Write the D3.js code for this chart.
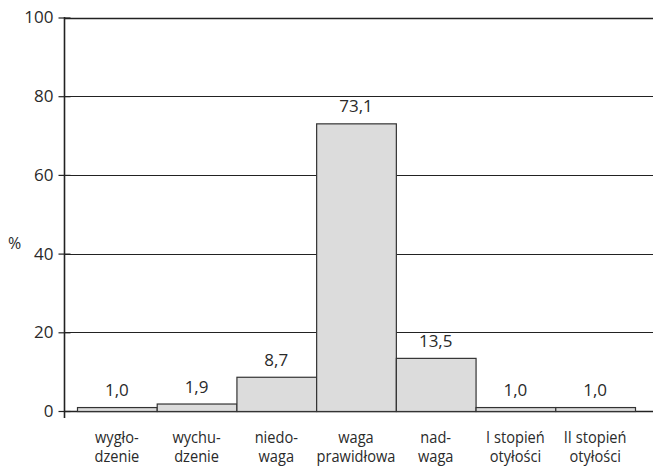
<!DOCTYPE html>
<html>
<head>
<meta charset="utf-8">
<script src="https://cdn.jsdelivr.net/npm/d3@7/dist/d3.min.js"></script>
<style>
  html, body { margin: 0; padding: 0; background: #fff; }
  svg { display: block; font-family: "Open Sans", "DejaVu Sans", sans-serif; }
</style>
</head>
<body>
<svg id="chart" width="653" height="466"></svg>
<script>
// Weight categories (two-line labels) and their shares in percent
const categories = [
  ["wygło-", "dzenie"],
  ["wychu-", "dzenie"],
  ["niedo-", "waga"],
  ["waga", "prawidłowa"],
  ["nad-", "waga"],
  ["I stopień", "otyłości"],
  ["II stopień", "otyłości"]
];
const values = [1.0, 1.9, 8.7, 73.1, 13.5, 1.0, 1.0];
const valueLabels = ["1,0", "1,9", "8,7", "73,1", "13,5", "1,0", "1,0"];
const yTicks = [0, 20, 40, 60, 80, 100];

const svg = d3.select("#chart");
const W = 653;
const axisX = 64, y0 = 411, yTop = 17.5;
const FONT = 17;
const textColor = "#2a2a2a";

const x = d3.scaleBand()
  .domain(d3.range(categories.length))
  .range([77, 635])
  .paddingInner(0)
  .paddingOuter(0);

const y = d3.scaleLinear().domain([0, 100]).range([y0, yTop]);

// horizontal gridlines
svg.append("g")
  .selectAll("line")
  .data(yTicks.filter(d => d > 0))
  .join("line")
  .attr("x1", axisX).attr("x2", W)
  .attr("y1", d => Math.round(y(d)) + 0.5)
  .attr("y2", d => Math.round(y(d)) + 0.5)
  .attr("stroke", "#222")
  .attr("stroke-width", d => d === 100 ? 1.6 : 1);

// baseline
svg.append("line")
  .attr("x1", axisX).attr("x2", W)
  .attr("y1", y0 + 0.5).attr("y2", y0 + 0.5)
  .attr("stroke", "#222").attr("stroke-width", 1.3);

// bars
svg.append("g")
  .selectAll("rect")
  .data(values)
  .join("rect")
  .attr("x", (d, i) => x(i) + 0.5)
  .attr("y", d => y(d) + 0.5)
  .attr("width", x.bandwidth())
  .attr("height", d => y0 - y(d))
  .attr("fill", "#dcdcdc")
  .attr("stroke", "#333")
  .attr("stroke-width", 1.2);

// value labels above bars
svg.append("g")
  .selectAll("text")
  .data(values)
  .join("text")
  .attr("x", (d, i) => x(i) + x.bandwidth() / 2)
  .attr("y", d => y(d) - 11)
  .attr("text-anchor", "middle")
  .attr("font-size", FONT)
  .attr("fill", textColor)
  .text((d, i) => valueLabels[i]);

// y axis
const yAxis = d3.axisLeft(y)
  .tickValues(yTicks)
  .tickSize(6)
  .tickPadding(5)
  .tickFormat(d3.format("d"));

const gy = svg.append("g")
  .attr("transform", `translate(${axisX + 0.5},0)`)
  .call(yAxis);
gy.select(".domain").remove();
gy.selectAll(".tick line")
  .attr("x1", -6).attr("x2", 6)
  .attr("stroke", "#222").attr("stroke-width", 1.2);
gy.selectAll(".tick text")
  .attr("font-size", FONT)
  .attr("font-family", "'Open Sans', 'DejaVu Sans', sans-serif")
  .attr("fill", textColor);

// vertical axis line
svg.append("line")
  .attr("x1", axisX + 0.5).attr("x2", axisX + 0.5)
  .attr("y1", yTop - 0.5).attr("y2", 418)
  .attr("stroke", "#222").attr("stroke-width", 1.6);

// unit label
svg.append("text")
  .attr("x", 8).attr("y", 249)
  .attr("font-size", FONT - 1)
  .attr("fill", textColor)
  .text("%");

// category labels (slightly condensed lettering)
const cat = svg.append("g")
  .selectAll("text")
  .data(categories)
  .join("text")
  .attr("transform", (d, i) => `translate(${x(i) + x.bandwidth() / 2},443) scale(0.86,1)`)
  .attr("text-anchor", "middle")
  .attr("font-size", FONT)
  .attr("fill", textColor);
cat.selectAll("tspan")
  .data(d => d)
  .join("tspan")
  .attr("x", 0)
  .attr("dy", (d, i) => i === 0 ? 0 : 19.5)
  .text(d => d);
</script>
</body>
</html>
